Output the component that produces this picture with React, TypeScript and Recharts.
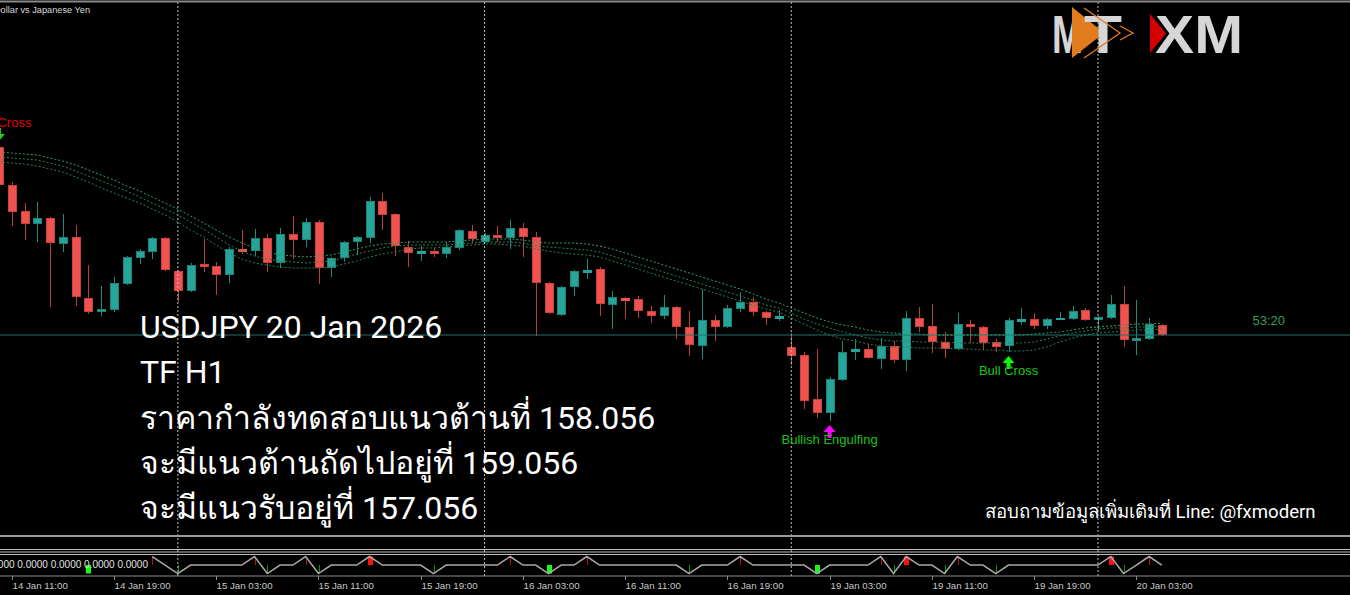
import React from 'react';
import { ComposedChart, Bar, Line, XAxis, YAxis, ReferenceLine, Scatter } from 'recharts';

const _ = null;

// ---------- candle data (USDJPY H1, 14 Jan 10:00 -> 20 Jan 05:00) ----------
const opens = [
  159.560, 159.256, 159.048, 158.944, 158.992, 158.784, 158.840, 158.352, 158.240, 158.256,
  158.464, 158.672, 158.720, 158.832, 158.568, 158.408, 158.624, 158.608, 158.536, 158.744,
  158.728, 158.832, 158.632, 158.864, 158.816, 158.960, 158.592, 158.672, 158.800, 158.832,
  159.128, 159.024, 158.760, 158.712, 158.728, 158.704, 158.752, 158.888, 158.800, 158.856,
  158.832, 158.912, 158.840, 158.472, 158.216, 158.440, 158.560, 158.584, 158.296, 158.352,
  158.344, 158.248, 158.208, 158.280, 158.120, 157.968, 158.176, 158.120, 158.264, 158.320,
  158.240, 158.192, 157.960, 157.896, 157.544, 157.432, 157.696, 157.928, 157.944, 157.864,
  157.968, 157.856, 158.192, 158.128, 158.000, 157.944, 158.144, 158.120, 158.000, 157.968,
  158.168, 158.184, 158.128, 158.184, 158.184, 158.256, 158.176, 158.192, 158.304, 158.008,
  158.024, 158.136,
];
const highs = [
  159.576, 159.280, 159.112, 159.120, 159.000, 159.024, 158.936, 158.616, 158.448, 158.520,
  158.688, 158.744, 158.840, 158.840, 158.576, 158.632, 158.824, 158.640, 158.760, 158.896,
  158.904, 158.864, 158.912, 159.008, 158.992, 158.976, 158.680, 158.808, 158.848, 159.160,
  159.192, 159.032, 158.808, 158.768, 158.752, 158.800, 158.904, 158.936, 158.872, 158.928,
  158.976, 158.952, 158.880, 158.480, 158.448, 158.576, 158.664, 158.600, 158.408, 158.360,
  158.368, 158.288, 158.376, 158.288, 158.248, 158.424, 158.216, 158.296, 158.400, 158.360,
  158.248, 158.256, 158.072, 157.920, 157.944, 157.720, 158.008, 158.024, 157.984, 158.032,
  158.008, 158.248, 158.280, 158.304, 158.080, 158.232, 158.176, 158.128, 158.024, 158.192,
  158.272, 158.232, 158.192, 158.240, 158.288, 158.272, 158.208, 158.376, 158.448, 158.336,
  158.192, 158.144,
];
const lows = [
  159.240, 158.928, 158.816, 158.800, 158.280, 158.720, 158.288, 158.224, 158.208, 158.240,
  158.456, 158.624, 158.664, 158.568, 158.320, 158.400, 158.560, 158.376, 158.472, 158.704,
  158.688, 158.560, 158.592, 158.664, 158.760, 158.464, 158.520, 158.640, 158.696, 158.792,
  158.896, 158.688, 158.600, 158.648, 158.680, 158.672, 158.736, 158.792, 158.792, 158.800,
  158.744, 158.680, 158.048, 158.224, 158.208, 158.368, 158.504, 158.208, 158.104, 158.184,
  158.192, 158.152, 158.184, 158.024, 157.888, 157.864, 158.008, 158.112, 158.240, 158.208,
  158.136, 158.168, 157.816, 157.464, 157.392, 157.368, 157.688, 157.856, 157.864, 157.784,
  157.832, 157.768, 158.080, 157.912, 157.872, 157.936, 157.992, 157.936, 157.920, 157.920,
  158.136, 158.104, 158.104, 158.176, 158.176, 158.168, 158.096, 158.184, 157.960, 157.896,
  158.016, 158.048,
];
const closes = [
  159.256, 159.040, 158.944, 158.992, 158.792, 158.840, 158.360, 158.240, 158.264, 158.472,
  158.680, 158.728, 158.832, 158.576, 158.408, 158.616, 158.600, 158.536, 158.744, 158.728,
  158.832, 158.632, 158.864, 158.816, 158.960, 158.592, 158.672, 158.800, 158.840, 159.128,
  159.016, 158.768, 158.712, 158.728, 158.704, 158.760, 158.896, 158.824, 158.856, 158.832,
  158.912, 158.840, 158.472, 158.232, 158.440, 158.568, 158.576, 158.304, 158.360, 158.336,
  158.248, 158.208, 158.280, 158.120, 157.976, 158.176, 158.120, 158.272, 158.320, 158.240,
  158.192, 158.208, 157.888, 157.528, 157.432, 157.704, 157.920, 157.944, 157.872, 157.968,
  157.856, 158.192, 158.120, 158.000, 157.944, 158.144, 158.120, 157.992, 157.960, 158.176,
  158.184, 158.128, 158.184, 158.192, 158.248, 158.176, 158.200, 158.304, 158.016, 158.032,
  158.144, 158.056,
];

// ---------- moving-average ribbon (three dashed lines) ----------
const maUpper = [
  159.520, 159.512, 159.504, 159.496, 159.472, 159.448, 159.416, 159.376, 159.336, 159.296,
  159.248, 159.208, 159.160, 159.112, 159.064, 159.008, 158.952, 158.896, 158.840, 158.792,
  158.752, 158.720, 158.696, 158.688, 158.680, 158.688, 158.696, 158.720, 158.744, 158.768,
  158.784, 158.792, 158.800, 158.800, 158.800, 158.800, 158.808, 158.816, 158.824, 158.824,
  158.824, 158.816, 158.800, 158.792, 158.792, 158.792, 158.784, 158.768, 158.744, 158.712,
  158.680, 158.648, 158.616, 158.584, 158.552, 158.520, 158.488, 158.456, 158.424, 158.384,
  158.344, 158.312, 158.272, 158.232, 158.192, 158.160, 158.136, 158.120, 158.096, 158.080,
  158.072, 158.064, 158.064, 158.056, 158.056, 158.056, 158.056, 158.056, 158.056, 158.056,
  158.056, 158.064, 158.072, 158.080, 158.096, 158.112, 158.120, 158.128, 158.136, 158.144,
  158.144, 158.152,
];
const maMiddle = [
  159.480, 159.472, 159.464, 159.456, 159.432, 159.408, 159.368, 159.328, 159.288, 159.248,
  159.208, 159.160, 159.112, 159.064, 159.016, 158.960, 158.904, 158.840, 158.776, 158.728,
  158.688, 158.664, 158.648, 158.640, 158.632, 158.640, 158.648, 158.672, 158.704, 158.728,
  158.752, 158.768, 158.776, 158.776, 158.776, 158.776, 158.784, 158.792, 158.800, 158.800,
  158.800, 158.792, 158.768, 158.760, 158.752, 158.744, 158.736, 158.720, 158.688, 158.656,
  158.624, 158.592, 158.560, 158.528, 158.496, 158.464, 158.432, 158.400, 158.368, 158.336,
  158.296, 158.272, 158.232, 158.184, 158.144, 158.112, 158.080, 158.056, 158.032, 158.016,
  158.008, 158.008, 158.000, 158.000, 158.000, 157.992, 157.992, 157.992, 157.992, 157.992,
  157.992, 158.000, 158.024, 158.048, 158.072, 158.088, 158.104, 158.112, 158.112, 158.120,
  158.120, 158.128,
];
const maLower = [
  159.440, 159.432, 159.424, 159.408, 159.384, 159.360, 159.320, 159.280, 159.232, 159.192,
  159.152, 159.112, 159.064, 159.016, 158.960, 158.896, 158.840, 158.776, 158.712, 158.664,
  158.632, 158.616, 158.600, 158.592, 158.592, 158.592, 158.600, 158.624, 158.648, 158.680,
  158.704, 158.720, 158.744, 158.752, 158.752, 158.760, 158.768, 158.776, 158.784, 158.784,
  158.776, 158.768, 158.744, 158.728, 158.712, 158.704, 158.696, 158.680, 158.648, 158.616,
  158.584, 158.552, 158.520, 158.488, 158.456, 158.424, 158.392, 158.360, 158.328, 158.296,
  158.264, 158.240, 158.192, 158.144, 158.096, 158.056, 158.024, 158.008, 157.984, 157.968,
  157.960, 157.960, 157.952, 157.952, 157.952, 157.944, 157.944, 157.936, 157.936, 157.928,
  157.928, 157.936, 157.960, 158.000, 158.032, 158.056, 158.072, 158.080, 158.088, 158.096,
  158.096, 158.104,
];

// ---------- lower indicator window ----------
const zigzag = [
  _, _, _, _, _, _, _, _, _, _, _, _,
  1, 0, -1, 0, 0, 0, 0, 0, 1, -1,
  0, 0, 1, -1, 0, 0, 0, 1, 0, 0,
  0, 0, -1, 0, 0, 0, 0, 0, 1, 0,
  0, -1, 0, 0, 1, 0, 0, 0, 0, 0,
  0, 0, -1, 0, 0, 0, 1, 0, 0, 0,
  0, 0, -1, 0, 0, 0, 0, 1, -1, 1,
  0, 0, -1, 1, 0, 0, -1, 0, 0, 0,
  0, 0, 0, 0, 0, 1, -1, 0, 1, 0,
];
const histogram = [
  _, _, _, _, _, _, _, -1, _, _, _, _,
  1, _, -1, _, _, _, _, _, 1, -1,
  _, _, 1, -1, _, _, _, 1, _, _,
  _, _, -1, _, _, _, _, _, 1, _,
  _, -1, _, _, 1, _, _, _, _, _,
  _, _, -1, _, _, _, 1, _, _, _,
  _, _, -1, _, _, _, _, 1, -1, 1,
  _, _, -1, 1, _, _, -1, _, _, _,
  _, _, _, _, _, 1, -1, _, 1, _,
];
const strongBars = [7, 29, 43, 64, 71, 87];
const indicatorReadout = '0.0000 0.0000 0.0000 0.0000 0.0000 0.0000';

// ---------- axes / annotations ----------
const daySeparators = [14, 38, 62, 86];
const tickIdx = [1, 9, 17, 25, 33, 41, 49, 57, 65, 73, 81, 89];
const tickLabels = [
  '14 Jan 11:00', '14 Jan 19:00', '15 Jan 03:00', '15 Jan 11:00', '15 Jan 19:00', '16 Jan 03:00',
  '16 Jan 11:00', '16 Jan 19:00', '19 Jan 03:00', '19 Jan 11:00', '19 Jan 19:00', '20 Jan 03:00',
];
const bidPrice = 158.056;
const countdown = '53:20';
const symbolName = 'US Dollar vs Japanese Yen';
const signalIdx = [0, 65, 79];
const signalText = ['Bear Cross', 'Bullish Engulfing', 'Bull Cross'];
const signalDir = ['down', 'up', 'up'];
const noteLines = [
  'USDJPY 20 Jan 2026',
  'TF H1',
  'ราคากำลังทดสอบแนวต้านที่ 158.056',
  'จะมีแนวต้านถัดไปอยู่ที่ 159.056',
  'จะมีแนวรับอยู่ที่ 157.056',
];
const footerNote = 'สอบถามข้อมูลเพิ่มเติมที่ Line: @fxmodern';

// ---------- derived tables ----------
const rows = opens.map((o, i) => ({
  i,
  open: o,
  high: highs[i],
  low: lows[i],
  close: closes[i],
  range: [lows[i], highs[i]],
  maUpper: maUpper[i],
  maMiddle: maMiddle[i],
  maLower: maLower[i],
  zig: zigzag[i],
  hist: histogram[i],
  strong: strongBars.includes(i),
}));
const signalRows = signalIdx.map((idx, k) => ({
  i: idx,
  price: signalDir[k] === 'up' ? lows[idx] : highs[idx],
  text: signalText[k],
  dir: signalDir[k],
  kind: k,
}));

const W = 1350;
const MAIN_H = 536;
const xDomain: [number, number] = [0.0845, 105.72];
const yDomain: [number, number] = [156.448, 160.736];
const indDomain: [number, number] = [-1.294, 3.412];

const UP = '#26a69a';
const DOWN = '#ef5350';
const UP_EDGE = '#1d8177';
const DOWN_EDGE = '#c9403d';
const UP_WICK = '#1f8a80';
const DOWN_WICK = '#b83f3c';
const MONO = "'Liberation Sans', Arial, sans-serif";
const BIG = "Roboto, 'Noto Sans', 'DejaVu Sans', sans-serif";

const CandleShape = (props: any) => {
  const { x, y, width, height, payload } = props;
  if (x == null || y == null || !payload) return null;
  const top = Math.min(y, y + height);
  const bottom = Math.max(y, y + height);
  const span = payload.high - payload.low;
  const toY = (v: number) => (span > 0 ? top + ((payload.high - v) / span) * (bottom - top) : top);
  const up = payload.close >= payload.open;
  const cx = Math.round(x + width / 2);
  const bTop = Math.round(toY(Math.max(payload.open, payload.close)));
  const bBot = Math.round(toY(Math.min(payload.open, payload.close)));
  const bh = Math.max(bBot - bTop, 1);
  return (
    <g>
      <line x1={cx + 0.5} x2={cx + 0.5} y1={top} y2={bottom} stroke={up ? UP_WICK : DOWN_WICK} strokeWidth={1} />
      {bh > 2 ? (
        <rect x={cx - 3.5} y={bTop + 0.5} width={8} height={bh - 1} fill={up ? UP : DOWN} stroke={up ? UP_EDGE : DOWN_EDGE} strokeWidth={1} />
      ) : (
        <rect x={cx - 4} y={bTop} width={9} height={bh + 1} fill={up ? UP : DOWN} />
      )}
    </g>
  );
};

const arrowPath = (cx: number, t: number, dir: string) => {
  if (dir === 'up') {
    return `M${cx},${t} L${cx + 6},${t + 7} L${cx + 2},${t + 7} L${cx + 2},${t + 13} L${cx - 2},${t + 13} L${cx - 2},${t + 7} L${cx - 6},${t + 7} Z`;
  }
  const b = t + 13;
  return `M${cx},${b} L${cx + 6},${b - 7} L${cx + 2},${b - 7} L${cx + 2},${t} L${cx - 2},${t} L${cx - 2},${b - 7} L${cx - 6},${b - 7} Z`;
};

const signalStyle = [
  { text: '#e00000', arrow: '#22d322' },
  { text: '#1cc01c', arrow: '#ff00ff' },
  { text: '#1cc81c', arrow: '#00ff00' },
];

const SignalShape = (props: any) => {
  const { cx, cy, payload } = props;
  if (cx == null || cy == null || !payload) return null;
  const st = signalStyle[payload.kind];
  const up = payload.dir === 'up';
  const arrowTop = up ? cy + 4 : cy - 17;
  const textY = up ? cy + 23 : cy - 18;
  return (
    <g>
      <path d={arrowPath(cx, arrowTop, payload.dir)} fill={st.arrow} />
      <text x={cx} y={textY} textAnchor="middle" fill={st.text} fontSize={13} fontFamily={MONO}>
        {payload.text}
      </text>
    </g>
  );
};

const BidLabel = (props: any) => {
  const vb = props.viewBox || {};
  if (vb.x == null) return null;
  return (
    <text x={vb.x + vb.width - 65} y={vb.y - 10} textAnchor="end" fill="#3a9a5c" fontSize={13} fontFamily={MONO}>
      {countdown}
    </text>
  );
};

const HistShape = (props: any) => {
  const { x, y, width, height, payload } = props;
  if (x == null || y == null || !payload || payload.hist == null) return null;
  const cx = Math.round(x + width / 2);
  const top = Math.min(y, y + height);
  const h = Math.abs(height);
  const pos = payload.hist > 0;
  const w = payload.strong ? 5 : 1;
  const color = pos ? (payload.strong ? '#ff1010' : '#b01818') : payload.strong ? '#10ff10' : '#169016';
  return <rect x={cx - Math.floor(w / 2)} y={top} width={w} height={h} fill={color} />;
};

const TimeTick = (props: any) => {
  const { x, y, payload } = props;
  const k = tickIdx.indexOf(payload.value);
  const label = k >= 0 ? tickLabels[k] : '';
  const px = Math.round(x) + 0.5;
  return (
    <g>
      <line x1={px} x2={px} y1={y - 2} y2={y + 2} stroke="#8c8c8c" strokeWidth={1} />
      <text x={px} y={y + 11} fill="#c8c8c8" fontSize={9.7} fontFamily={MONO} textAnchor="start">
        {label}
      </text>
    </g>
  );
};

const Logo = () => (
  <g fontFamily={MONO} fontWeight="bold">
    <text x={1052} y={53} fontSize={53} fill="#d6d6d6" textLength={31} lengthAdjust="spacingAndGlyphs">M</text>
    <polygon points="1072,7 1072,58 1104,33" fill="#e07b1f" />
    <text x={1084} y={53} fontSize={53} fill="#d6d6d6" textLength={38} lengthAdjust="spacingAndGlyphs">T</text>
    <polyline points="1084,8 1120,33 1084,58" fill="none" stroke="#e07b1f" strokeWidth={1.3} />
    <polyline points="1120,26 1133,33 1120,40" fill="none" stroke="#e07b1f" strokeWidth={1.3} />
    <polygon points="1150,14 1150,53 1166,33.5" fill="#d40000" />
    <text x={1155} y={53} fontSize={53} fill="#d6d6d6" textLength={88} lengthAdjust="spacingAndGlyphs">XM</text>
  </g>
);

export default function App() {
  return (
    <div style={{ position: 'absolute', left: 0, top: 0, width: W, height: 595, background: '#000', overflow: 'hidden' }}>
      <div style={{ position: 'absolute', left: 0, top: 0 }}>
        <ComposedChart width={W} height={MAIN_H} data={rows} margin={{ top: 0, right: 0, bottom: 0, left: 0 }}>
          <XAxis dataKey="i" type="number" domain={xDomain} allowDataOverflow hide />
          <YAxis type="number" domain={yDomain} allowDataOverflow hide />
          {daySeparators.map((d) => (
            <ReferenceLine key={d} x={d} stroke="#bdbdbd" strokeDasharray="2 2" strokeWidth={1} />
          ))}
          <ReferenceLine y={bidPrice} stroke="#22706a" strokeWidth={1} label={<BidLabel />} />
          <Line dataKey="maUpper" stroke="#33a062" strokeWidth={1} strokeDasharray="2 2" dot={false} activeDot={false} isAnimationActive={false} />
          <Line dataKey="maMiddle" stroke="#27834f" strokeWidth={1} strokeDasharray="2 2" dot={false} activeDot={false} isAnimationActive={false} />
          <Line dataKey="maLower" stroke="#27834f" strokeWidth={1} strokeDasharray="2 2" dot={false} activeDot={false} isAnimationActive={false} />
          <Bar dataKey="range" barSize={9} shape={(p: any) => <CandleShape {...p} />} activeBar={false} isAnimationActive={false} />
          <Scatter data={signalRows} dataKey="price" shape={(p: any) => <SignalShape {...p} />} isAnimationActive={false} />
        </ComposedChart>
      </div>
      <div style={{ position: 'absolute', left: 0, top: MAIN_H }}>
        <ComposedChart width={W} height={59} data={rows} margin={{ top: 0, right: 0, bottom: 0, left: 0 }}>
          <XAxis
            dataKey="i"
            type="number"
            domain={xDomain}
            allowDataOverflow
            ticks={tickIdx}
            interval={0}
            height={19}
            tickSize={0}
            tickLine={false}
            axisLine={{ stroke: '#8c8c8c' }}
            tick={(p: any) => <TimeTick {...p} />}
          />
          <YAxis type="number" domain={indDomain} allowDataOverflow hide />
          {daySeparators.map((d) => (
            <ReferenceLine key={d} x={d} stroke="#bdbdbd" strokeDasharray="2 2" strokeWidth={1} />
          ))}
          <Line dataKey="zig" stroke="#a8a8a8" strokeWidth={1.5} dot={false} activeDot={false} connectNulls={false} isAnimationActive={false} />
          <Bar dataKey="hist" barSize={5} shape={(p: any) => <HistShape {...p} />} activeBar={false} isAnimationActive={false} />
        </ComposedChart>
      </div>
      <svg width={W} height={595} style={{ position: 'absolute', left: 0, top: 0, pointerEvents: 'none' }}>
        <rect x={0} y={0.5} width={W} height={2} fill="#8a8a8a" />
        <text x={90} y={12.5} textAnchor="end" fill="#d8d8d8" fontSize={9.2} fontFamily={MONO}>{symbolName}</text>
        <rect x={0} y={535} width={W} height={2} fill="#9a9a9a" />
        <rect x={0} y={549} width={W} height={1} fill="#bcbcbc" />
        <rect x={0} y={551.5} width={W} height={1} fill="#bcbcbc" />
        <rect x={0} y={554} width={W} height={1} fill="#bcbcbc" />
        <text x={148} y={568} textAnchor="end" fill="#e0e0e0" fontSize={10} fontFamily={MONO}>{indicatorReadout}</text>
        <Logo />
        {noteLines.map((t, k) => (
          <text key={k} x={140} y={338 + k * 45.3} fill="#ffffff" fontSize={32} fontFamily={BIG}>{t}</text>
        ))}
        <text x={985} y={518} fill="#ffffff" fontSize={18.6} fontFamily={BIG}>{footerNote}</text>
      </svg>
    </div>
  );
}
